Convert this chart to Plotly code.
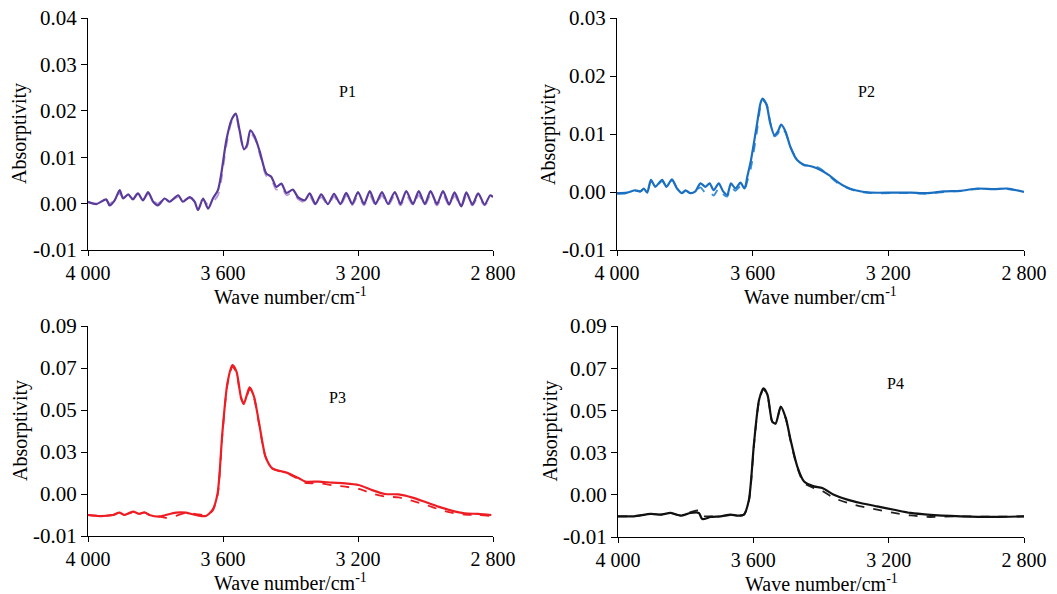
import plotly.graph_objects as go

# ---------------- data ----------------
p1_wn = [4000, 3975, 3946, 3936, 3921, 3906, 3896, 3881, 3867, 3852, 3837, 3822, 3807, 3793, 3773,
         3758, 3733, 3719, 3699, 3684, 3674, 3659, 3644, 3630, 3615, 3605, 3590, 3575, 3562, 3551,
         3538, 3529, 3519, 3506, 3491, 3472, 3457, 3442, 3427, 3412, 3393, 3378, 3358, 3343, 3326,
         3309, 3289, 3271, 3252, 3235, 3217, 3200, 3182, 3165, 3148, 3129, 3111, 3091, 3074, 3057,
         3037, 3020, 3002, 2985, 2966, 2948, 2930, 2914, 2894, 2879, 2861, 2844, 2825, 2808, 2800]
p1_solid = [0.0004, -0.0001, 0.0009, -0.0004, 0.0007, 0.0029, 0.0011, 0.0020, 0.0009, 0.0022, 0.0007,
            0.0025, 0.0004, -0.0004, 0.0011, 0.0004, 0.0018, 0.0004, 0.0014, 0.0004, -0.0014, 0.0011,
            -0.0011, 0.0011, 0.0029, 0.0065, 0.0137, 0.0180, 0.0194, 0.0158, 0.0117, 0.0126, 0.0158,
            0.0144, 0.0112, 0.0065, 0.0058, 0.0036, 0.0043, 0.0023, 0.0030, 0.0014, 0.0007, 0.0022,
            -0.0001, 0.0020, -0.0001, 0.0021, -0.0001, 0.0023, -0.0001, 0.0025, -0.0001, 0.0027,
            -0.0001, 0.0025, -0.0001, 0.0025, -0.0001, 0.0027, -0.0001, 0.0027, -0.0001, 0.0027,
            -0.0001, 0.0027, -0.0002, 0.0024, -0.0006, 0.0024, -0.0002, 0.0022, -0.0002, 0.0018, 0.0014]
p1_dash = [0.0002, 0.0000, 0.0007, 0.0000, 0.0008, 0.0022, 0.0012, 0.0018, 0.0010, 0.0024, 0.0009,
           0.0020, 0.0006, 0.0000, 0.0010, 0.0006, 0.0014, 0.0006, 0.0012, 0.0006, 0.0000, 0.0008,
           -0.0002, 0.0004, 0.0018, 0.0050, 0.0125, 0.0175, 0.0188, 0.0152, 0.0114, 0.0122, 0.0152,
           0.0140, 0.0106, 0.0060, 0.0052, 0.0030, 0.0036, 0.0018, 0.0024, 0.0010, 0.0003, 0.0015,
           -0.0003, 0.0014, -0.0003, 0.0015, -0.0003, 0.0016, -0.0003, 0.0017, -0.0004, 0.0018,
           -0.0004, 0.0017, -0.0004, 0.0017, -0.0004, 0.0018, -0.0004, 0.0018, -0.0004, 0.0018,
           -0.0004, 0.0018, -0.0004, 0.0016, -0.0006, 0.0016, -0.0004, 0.0014, -0.0004, 0.0010, 0.0006]

p2_wn = [4000, 3970, 3946, 3931, 3921, 3911, 3900, 3887, 3877, 3867, 3854, 3838, 3823, 3808, 3798,
         3784, 3769, 3754, 3739, 3727, 3715, 3700, 3687, 3675, 3664, 3651, 3636, 3624, 3616, 3605,
         3587, 3577, 3571, 3559, 3548, 3536, 3526, 3516, 3503, 3489, 3469, 3449, 3425, 3400, 3375,
         3351, 3326, 3297, 3252, 3184, 3134, 3085, 3036, 2987, 2938, 2889, 2849, 2800]
p2_solid = [-0.0002, -0.0001, 0.0003, 0.0001, 0.0006, -0.0001, 0.0021, 0.0009, 0.0015, 0.0021, 0.0009,
            0.0022, 0.0006, -0.0002, 0.0003, -0.0002, 0.0001, 0.0015, 0.0009, 0.0015, 0.0003, 0.0015,
            0.0001, -0.0005, 0.0015, 0.0006, 0.0016, 0.0006, 0.0026, 0.0055, 0.0118, 0.0153, 0.0161,
            0.0150, 0.0118, 0.0098, 0.0104, 0.0116, 0.0104, 0.0078, 0.0055, 0.0047, 0.0044, 0.0038,
            0.0029, 0.0018, 0.0009, 0.0003, -0.0001, -0.0001, -0.0001, -0.0002, 0.0001, 0.0002,
            0.0006, 0.0005, 0.0006, 0.0000]
p2_dash = [-0.0003, -0.0002, 0.0002, 0.0001, 0.0005, 0.0000, 0.0018, 0.0010, 0.0014, 0.0019, 0.0010,
           0.0020, 0.0007, -0.0001, 0.0002, -0.0002, 0.0000, 0.0008, -0.0002, 0.0000, -0.0006, 0.0006,
           -0.0004, -0.0008, 0.0008, 0.0002, 0.0010, 0.0004, 0.0018, 0.0042, 0.0106, 0.0148, 0.0158,
           0.0152, 0.0120, 0.0096, 0.0100, 0.0112, 0.0102, 0.0078, 0.0056, 0.0046, 0.0046, 0.0040,
           0.0028, 0.0016, 0.0008, 0.0002, -0.0002, -0.0002, -0.0002, -0.0003, 0.0000, 0.0002,
           0.0005, 0.0005, 0.0005, 0.0000]

p3_wn = [4000, 3966, 3926, 3907, 3892, 3867, 3848, 3833, 3818, 3789, 3769, 3739, 3710, 3680, 3651,
         3631, 3616, 3602, 3587, 3572, 3560, 3547, 3538, 3528, 3521, 3508, 3493, 3474, 3454, 3434,
         3405, 3375, 3356, 3316, 3277, 3238, 3198, 3159, 3120, 3080, 3041, 3002, 2962, 2923, 2884,
         2844, 2805]
p3_solid = [0.0000, -0.0005, 0.0000, 0.0011, 0.0000, 0.0016, 0.0005, 0.0013, 0.0000, -0.0008, 0.0000,
            0.0011, 0.0011, 0.0000, -0.0005, 0.0024, 0.0103, 0.0389, 0.0627, 0.0714, 0.0683, 0.0563,
            0.0532, 0.0579, 0.0608, 0.0563, 0.0437, 0.0278, 0.0222, 0.0211, 0.0198, 0.0175, 0.0159,
            0.0159, 0.0154, 0.0151, 0.0143, 0.0119, 0.0100, 0.0098, 0.0084, 0.0063, 0.0040, 0.0021,
            0.0008, 0.0005, 0.0000]
p3_dash = [0.0000, -0.0004, 0.0000, 0.0009, 0.0001, 0.0013, 0.0006, 0.0011, 0.0001, -0.0006, -0.0014,
           -0.0004, 0.0010, 0.0004, 0.0000, 0.0020, 0.0095, 0.0380, 0.0620, 0.0705, 0.0676, 0.0556,
           0.0527, 0.0572, 0.0600, 0.0556, 0.0432, 0.0276, 0.0221, 0.0209, 0.0195, 0.0170, 0.0153,
           0.0151, 0.0142, 0.0135, 0.0124, 0.0103, 0.0088, 0.0084, 0.0068, 0.0050, 0.0028, 0.0011,
           0.0002, 0.0000, -0.0005]

p4_wn = [4000, 3953, 3903, 3874, 3844, 3815, 3785, 3761, 3751, 3726, 3697, 3667, 3647, 3628, 3613,
         3598, 3583, 3570, 3558, 3544, 3534, 3519, 3504, 3490, 3470, 3450, 3421, 3396, 3362, 3322,
         3283, 3234, 3184, 3135, 3086, 2987, 2889, 2800]
p4_solid = [-0.0002, -0.0002, 0.0010, 0.0006, 0.0014, 0.0001, 0.0014, 0.0014, -0.0015, -0.0005,
            -0.0002, 0.0006, 0.0001, 0.0006, 0.0077, 0.0345, 0.0550, 0.0605, 0.0573, 0.0447, 0.0439,
            0.0518, 0.0463, 0.0361, 0.0234, 0.0163, 0.0140, 0.0132, 0.0100, 0.0077, 0.0061, 0.0045,
            0.0029, 0.0014, 0.0006, -0.0002, -0.0005, -0.0002]
p4_dash = [-0.0002, -0.0001, 0.0008, 0.0006, 0.0012, 0.0003, 0.0018, 0.0025, 0.0000, -0.0002,
           -0.0001, 0.0004, 0.0002, 0.0005, 0.0070, 0.0338, 0.0545, 0.0600, 0.0570, 0.0445, 0.0437,
           0.0515, 0.0460, 0.0356, 0.0228, 0.0155, 0.0132, 0.0118, 0.0085, 0.0062, 0.0045, 0.0030,
           0.0014, 0.0002, -0.0005, -0.0002, -0.0004, -0.0002]

x_ticks = [4000, 3600, 3200, 2800]
x_tick_labels = ["4 000", "3 600", "3 200", "2 800"]
p1_yticks = [-0.01, 0.00, 0.01, 0.02, 0.03, 0.04]
p1_ylabels = ["-0.01", "0.00", "0.01", "0.02", "0.03", "0.04"]
p2_yticks = [-0.01, 0.00, 0.01, 0.02, 0.03]
p2_ylabels = ["-0.01", "0.00", "0.01", "0.02", "0.03"]
p34_yticks = [-0.01, 0.01, 0.03, 0.05, 0.07, 0.09]
p34_ylabels = ["-0.01", "0.00", "0.03", "0.05", "0.07", "0.09"]

panel_names = ["P1", "P2", "P3", "P4"]
# --------------------------------------

W, H = 1057, 594
FONT = "Liberation Serif, Times New Roman, serif"

def px_x(a, b):
    return [a / W, b / W]

def px_y(top, bottom):
    return [1 - bottom / H, 1 - top / H]

panels = [
    dict(wn=p1_wn, s=p1_solid, d=p1_dash, cs="#5a3b9b", cd="#b59bd6", yr=[-0.01, 0.04],
         yt=p1_yticks, yl=p1_ylabels, dx=px_x(88, 493), dy=px_y(18, 250), lab=(347, 92)),
    dict(wn=p2_wn, s=p2_solid, d=p2_dash, cs="#1a6fc0", cd="#3a8fd8", yr=[-0.01, 0.03],
         yt=p2_yticks, yl=p2_ylabels, dx=px_x(617, 1024), dy=px_y(18, 250), lab=(866, 92)),
    dict(wn=p3_wn, s=p3_solid, d=p3_dash, cs="#ee1d24", cd="#ee1d24", yr=[-0.01, 0.09],
         yt=p34_yticks, yl=p34_ylabels, dx=px_x(88, 493), dy=px_y(326, 536), lab=(337, 397)),
    dict(wn=p4_wn, s=p4_solid, d=p4_dash, cs="#111111", cd="#222222", yr=[-0.01, 0.09],
         yt=p34_yticks, yl=p34_ylabels, dx=px_x(618, 1024), dy=px_y(326, 537), lab=(895, 383)),
]

fig = go.Figure()
annotations = []
layout = {}
for i, p in enumerate(panels):
    k = "" if i == 0 else str(i + 1)
    xa, ya = "x" + k, "y" + k
    fig.add_trace(go.Scatter(x=p["wn"], y=p["d"], mode="lines", xaxis=xa, yaxis=ya,
                             line=dict(color=p["cd"], width=1.8, dash="dash", shape="spline", smoothing=0.7),
                             showlegend=False, hoverinfo="skip"))
    fig.add_trace(go.Scatter(x=p["wn"], y=p["s"], mode="lines", xaxis=xa, yaxis=ya,
                             line=dict(color=p["cs"], width=2.2, shape="spline", smoothing=0.7),
                             showlegend=False, hoverinfo="skip"))
    layout["xaxis" + k] = dict(domain=p["dx"], range=[4000, 2800], anchor=ya, automargin=False,
                               tickvals=x_ticks, ticktext=x_tick_labels,
                               showline=True, linecolor="black", linewidth=1.3,
                               ticks="outside", ticklen=5, tickcolor="black",
                               showgrid=False, zeroline=False,
                               tickfont=dict(family=FONT, size=20, color="black"))
    layout["yaxis" + k] = dict(domain=p["dy"], range=p["yr"], anchor=xa, automargin=False,
                               tickvals=p["yt"], ticktext=p["yl"],
                               showline=True, linecolor="black", linewidth=1.3,
                               ticks="outside", ticklen=6, tickcolor="black",
                               showgrid=False, zeroline=False,
                               tickfont=dict(family=FONT, size=21, color="black"))
    x0, x1 = p["dx"]
    y0, y1 = p["dy"]
    annotations.append(dict(text="Wave number/cm<sup>-1</sup>", xref="paper", yref="paper",
                            x=(x0 + x1) / 2, y=y0 - 46 / H, xanchor="center", yanchor="middle",
                            showarrow=False, font=dict(family=FONT, size=20, color="black")))
    annotations.append(dict(text="Absorptivity", xref="paper", yref="paper",
                            x=x0 - 68 / W, y=(y0 + y1) / 2, xanchor="center", yanchor="middle",
                            textangle=-90, showarrow=False,
                            font=dict(family=FONT, size=20, color="black")))
    lx, ly = p["lab"]
    annotations.append(dict(text=panel_names[i], xref="paper", yref="paper",
                            x=lx / W, y=1 - ly / H, xanchor="center", yanchor="middle",
                            showarrow=False, font=dict(family=FONT, size=16, color="black")))

fig.update_layout(width=W, height=H, margin=dict(l=0, r=0, t=0, b=0, autoexpand=False),
                  paper_bgcolor="white", plot_bgcolor="white",
                  annotations=annotations, **layout)
fig.write_html("out.html", config={"displayModeBar": False},
               post_script="document.body.style.margin='0px';document.body.style.padding='0px';"
                           "document.body.style.overflow='hidden';")
